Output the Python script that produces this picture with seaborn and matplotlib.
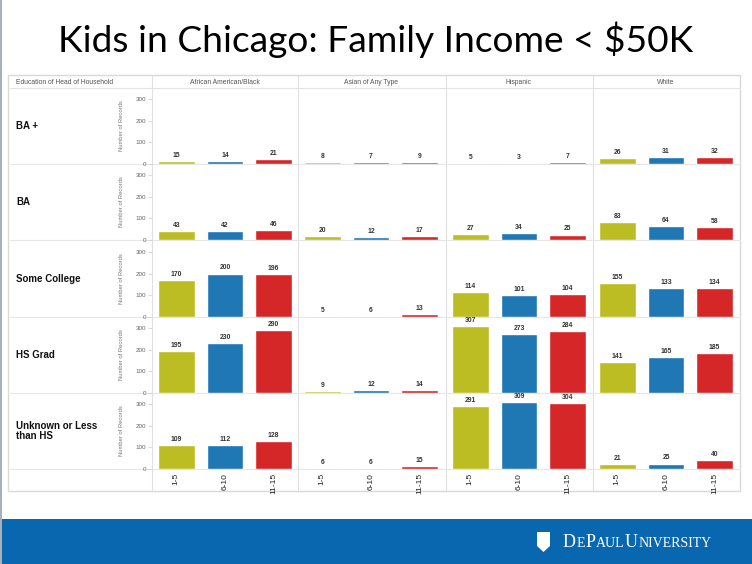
import numpy as np
import pandas as pd
import matplotlib
matplotlib.use("Agg")
import matplotlib.pyplot as plt
from matplotlib.patches import Rectangle, Polygon
import seaborn as sns

# data
periods = ["1-5", "6-10", "11-15"]
races = ["African American/Black", "Asian of Any Type", "Hispanic", "White"]
education = ["BA +", "BA", "Some College", "HS Grad", "Unknown or Less\nthan HS"]

# rows = education levels, cols = periods
african_american = [[15, 14, 21], [43, 42, 46], [170, 200, 196], [195, 230, 290], [109, 112, 128]]
asian = [[8, 7, 9], [20, 12, 17], [5, 6, 13], [9, 12, 14], [6, 6, 15]]
hispanic = [[5, 3, 7], [27, 34, 25], [114, 101, 104], [307, 273, 284], [291, 309, 304]]
white = [[26, 31, 32], [83, 64, 58], [155, 133, 134], [141, 165, 185], [21, 25, 40]]

bar_colors = ["#bcbd22", "#1f77b4", "#d62728"]

rows = []
for race, table in zip(races, [african_american, asian, hispanic, white]):
    for edu, counts in zip(education, table):
        for p, c in zip(periods, counts):
            rows.append({"Race": race, "Education": edu, "Years": p, "Records": c})
df = pd.DataFrame(rows)

sns.set_theme(style="white")
plt.rcParams["font.family"] = ["Liberation Sans", "DejaVu Sans"]

W, H = 752, 564
fig = plt.figure(figsize=(W / 100, H / 100), dpi=100)
fig.patch.set_facecolor("white")

# background / decoration layer in pixel coordinates
bg = fig.add_axes([0, 0, 1, 1])
bg.set_xlim(0, W)
bg.set_ylim(H, 0)
bg.axis("off")
bg.set_zorder(0)

bg.add_patch(Rectangle((0, 0), 2, H, color="#a8b0b8", lw=0))
bg.text(376, 40, "Kids in Chicago: Family Income < $50K", ha="center", va="center",
        fontsize=26.7, family="Lato", color="black")

# panel frame
bg.add_patch(Rectangle((8, 75), 732, 416, fill=False, ec="#d9d9d9", lw=1))
bg.plot([10, 740], [88, 88], color="#e3e3e3", lw=0.8)
col_left = [152, 298, 446, 593]
col_w = 146
for x in col_left:
    bg.plot([x, x], [76, 490], color="#e0e0e0", lw=0.8)
baselines = [164, 240, 317, 393, 469]
row_h = 76
for b in baselines:
    bg.plot([10, 740], [b, b], color="#e6e6e6", lw=0.8)

bg.text(16, 83, "Education of Head of Household", ha="left", va="center",
        fontsize=4.9, color="#555555")
for race, x in zip(races, col_left):
    bg.text(x + col_w / 2, 83, race, ha="center", va="center", fontsize=4.9, color="#555555")
for edu, b in zip(education, baselines):
    bg.text(16, b - row_h / 2, edu, ha="left", va="center", fontsize=7,
            fontweight="bold", color="#111111", linespacing=1.0)

# footer band
bg.add_patch(Rectangle((2, 519), W, H - 519, color="#0867ae", lw=0))
bg.add_patch(Polygon([[537, 532], [550, 532], [550, 546], [543.5, 552], [537, 546]],
                     closed=True, color="white", lw=0))

# small-caps style wordmark, pieces laid out one after another
pieces = [("D", 13), ("E", 10), ("P", 13), ("AUL", 10), ("U", 13), ("NIVERSITY", 10)]
fig.canvas.draw()
renderer = fig.canvas.get_renderer()
xpos = 563
for txt, fs in pieces:
    t = bg.text(xpos, 547, txt, ha="left", va="baseline", fontsize=fs,
                family="Liberation Serif", color="white")
    ext = t.get_window_extent(renderer=renderer)
    xpos += ext.width + 0.5

for i, edu in enumerate(education):
    for j, race in enumerate(races):
        left = col_left[j] / W
        bottom = (H - baselines[i]) / H
        ax = fig.add_axes([left, bottom, col_w / W, row_h / H])
        ax.set_zorder(1)
        ax.patch.set_alpha(0)
        sub = df[(df["Race"] == race) & (df["Education"] == edu)]
        sns.barplot(data=sub, x="Years", y="Records", hue="Years", order=periods,
                    hue_order=periods, palette=bar_colors, width=0.76, legend=False,
                    ax=ax, saturation=1)
        for cont in ax.containers:
            ax.bar_label(cont, padding=1.5, fontsize=4.9, fontweight="bold", color="#333333")
        ax.set_ylim(0, 350)
        ax.set_xlim(-0.5, 2.5)
        for s in ax.spines.values():
            s.set_visible(False)
        ax.set_xlabel("")
        if j == 0:
            ax.set_yticks([0, 100, 200, 300])
            ax.tick_params(axis="y", length=3, width=0.5, color="#cccccc", pad=1,
                           labelsize=4.5, labelcolor="#666666", left=True)
            ax.set_ylabel("Number of Records", fontsize=4.2, color="#777777")
            ax.yaxis.set_label_coords(-0.19, 0.5)
        else:
            ax.set_yticks([])
            ax.set_ylabel("")
        if i == len(education) - 1:
            ax.tick_params(axis="x", labelsize=6, labelrotation=90, length=0, pad=3,
                           labelcolor="#222222")
        else:
            ax.set_xticks([])

fig.savefig("out.png", dpi=100)
